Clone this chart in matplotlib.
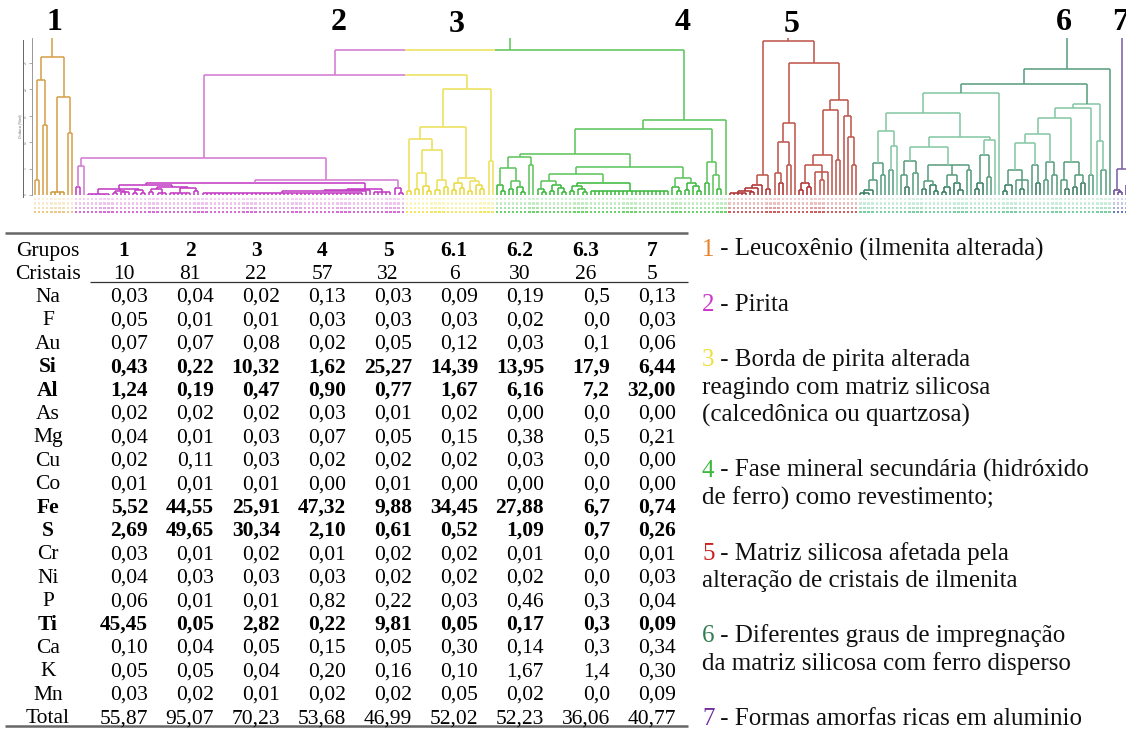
import numpy as np
import matplotlib.pyplot as plt
from matplotlib.collections import LineCollection

plt.rcParams['font.family'] = ['Liberation Serif', 'DejaVu Serif']

# ---------------- tabela ----------------
grupos = ['1', '2', '3', '4', '5', '6.1', '6.2', '6.3', '7']
cristais = [10, 81, 22, 57, 32, 6, 30, 26, 5]
elementos = ['Na', 'F', 'Au', 'Si', 'Al', 'As', 'Mg', 'Cu', 'Co',
             'Fe', 'S', 'Cr', 'Ni', 'P', 'Ti', 'Ca', 'K', 'Mn']
teores = [
    ['0,03', '0,04', '0,02', '0,13', '0,03', '0,09', '0,19', '0,5', '0,13'],
    ['0,05', '0,01', '0,01', '0,03', '0,03', '0,03', '0,02', '0,0', '0,03'],
    ['0,07', '0,07', '0,08', '0,02', '0,05', '0,12', '0,03', '0,1', '0,06'],
    ['0,43', '0,22', '10,32', '1,62', '25,27', '14,39', '13,95', '17,9', '6,44'],
    ['1,24', '0,19', '0,47', '0,90', '0,77', '1,67', '6,16', '7,2', '32,00'],
    ['0,02', '0,02', '0,02', '0,03', '0,01', '0,02', '0,00', '0,0', '0,00'],
    ['0,04', '0,01', '0,03', '0,07', '0,05', '0,15', '0,38', '0,5', '0,21'],
    ['0,02', '0,11', '0,03', '0,02', '0,02', '0,02', '0,03', '0,0', '0,00'],
    ['0,01', '0,01', '0,01', '0,00', '0,01', '0,00', '0,00', '0,0', '0,00'],
    ['5,52', '44,55', '25,91', '47,32', '9,88', '34,45', '27,88', '6,7', '0,74'],
    ['2,69', '49,65', '30,34', '2,10', '0,61', '0,52', '1,09', '0,7', '0,26'],
    ['0,03', '0,01', '0,02', '0,01', '0,02', '0,02', '0,01', '0,0', '0,01'],
    ['0,04', '0,03', '0,03', '0,03', '0,02', '0,02', '0,02', '0,0', '0,03'],
    ['0,06', '0,01', '0,01', '0,82', '0,22', '0,03', '0,46', '0,3', '0,04'],
    ['45,45', '0,05', '2,82', '0,22', '9,81', '0,05', '0,17', '0,3', '0,09'],
    ['0,10', '0,04', '0,05', '0,15', '0,05', '0,30', '0,14', '0,3', '0,34'],
    ['0,05', '0,05', '0,04', '0,20', '0,16', '0,10', '1,67', '1,4', '0,30'],
    ['0,03', '0,02', '0,01', '0,02', '0,02', '0,05', '0,02', '0,0', '0,09'],
]
total = ['55,87', '95,07', '70,23', '53,68', '46,99', '52,02', '52,23', '36,06', '40,77']
destaque = ['Si', 'Al', 'Fe', 'S', 'Ti']

descricoes = [
    ['Leucoxênio (ilmenita alterada)'],
    ['Pirita'],
    ['Borda de pirita alterada', 'reagindo com matriz silicosa', '(calcedônica ou quartzosa)'],
    ['Fase mineral secundária (hidróxido', 'de ferro) como revestimento;'],
    ['Matriz silicosa afetada pela', 'alteração de cristais de ilmenita'],
    ['Diferentes graus de impregnação', 'da matriz silicosa com ferro disperso'],
    ['Formas amorfas ricas em aluminio'],
]
cores_legenda = ['#e8822a', '#cc33cc', '#eee040', '#3cb83c', '#cc2222', '#2e7d50', '#7030a0']

# ---------------- dendrograma ----------------
# nó = (altura, filho, filho, ...); inteiro k = k folhas ligadas direto ao nó
grupo1 = (138, (115, (15, 1, 1), (70, 1, 1)), (98, (3, 4), (62, 1, 1)))
grupo2 = (37, (29, (8, 1, 1), 1),
          (15, (12, (10, (6, (1.5, 6), (4, (2, 1, 1), (3, 1, 1, 1)), (5, (2, 1, 1), (2, 1, 1))),
                         (8, (6, (3, 1, 1), (2, 1, 1, 1)), (7, (2, 6), (4, 1, 1)))),
                    (6, (5, (4, (2, 40), 1), 1), (3, 5))),
               (7, 1, (2, 1, 1))))
grupo3 = (106, (68, (56, (4, 1, 1),
                     (45, (22, (6, 1, 1), (9, 1, (4, 1, 1))), (15, (5, 1, 1), (8, 1, 1)))),
                (17, (12, (5, 1, 1), (7, 1, 1)), (14, (4, 1, 1), (10, 1, (6, 1, 1))))),
          (34, 1, 1))
g4d = (38, (27, (10, 1, (4, 1, 1)), (14, (6, 1, 1), (8, 1, (3, 1, 1)))), (30, 1, 1))
g4f = (21, (14, (6, 1, (3, 1, 1)), (10, (4, 1, 1), (7, 1, (3, 1, 1)))),
       (12, (9, (4, 1, 1), (6, 1, (3, 1, 1))), (4, 20)))
g4g = (17, (8, 1, (4, 1, 1)), (12, (5, 1, 1), (9, 1, (4, 1, 1))))
grupo4 = (75, (66, (41, g4d, (28, g4f, g4g)), (33, (12, 1, 1), (20, 1, (6, 1, 1)))), 1)
grupo5 = (154, (20, (10, (7, (4, (2, 5), (3, 1, 1)), 1), 1), (6, 1, 1)),
          (132, (72, (53, (22, 1, (12, 1, 1)), (30, 1, 1)), 1),
           (95, (85, (40, (30, (12, (5, 1, 1), (8, 1, 1)), (23, 1, (15, 1, 1), 1)), 1), (35, 1, 1)),
            (79, 1, (58, 1, (30, 1, 1))))))
g6e = (64, (32, (15, (5, (2, 3), 1), 1), (20, 1, 1)), (49, (25, 1, 1), 1))
g6h = (30, (14, (6, 1, 1), (10, 1, (4, 1, 1))), (20, (8, (3, 1, 1), 1), (12, 1, (5, 1, 1))), (25, 1, 1))
g6f = (58, (48, (34, (20, 1, (8, 1, 1)), (22, 1, 1)), g6h),
       (55, (40, (12, (6, 1, 1), 1), (18, 1, 1)), 1))
g6n = (61, (52, (25, (10, (4, 1, 1), 1), (15, 1, (6, 1, 1), 1)), (30, 1, (12, 1, 1))),
       (33, (15, 1, 1), (20, 1, 1)))
g6o = (33, (15, 1, (6, 1, 1)), (20, (8, 1, 1), (12, 1, 1)))
grupo6 = (126, (111, (102, (82, g6e, g6f), 1),
                (91, (87, (77, g6n, g6o), (20, 1, 1)), (54, 1, (25, 1, 1)))), 1)
grupo7 = (26, (5, 1, (3, 1, 1)), (10, 1, 1))
raiz = (200, grupo1, (145, (120, grupo2, grupo3), grupo4), grupo5, grupo6, grupo7)

n_grupo = [10, 81, 22, 57, 32, 6 + 30 + 26, 5]
cores_linha = ['#d6a24c', '#d27cd2', '#ece25a', '#5fc65f', '#c0574f', '#5a9f80', '#7d62a6']
cores_baixo = ['#cf9a40', '#c43cc4', '#e6da40', '#3fba3f', '#b03232', '#3b7f63', '#6a4c98']
cores_folha = ['#e8c070', '#d050d0', '#f0e440', '#50cc50', '#c84040', '#60c890', '#5060b0']

segs = []


def montar(no, prox):
    h = no[0]
    pts = []
    for filho in no[1:]:
        if isinstance(filho, int):
            for _ in range(filho):
                pts.append((prox[0], 0.0))
                prox[0] += 1
        else:
            pts.append(montar(filho, prox))
    for x, y in pts:
        segs.append((x, y, x, h))
    segs.append((pts[0][0], h, pts[-1][0], h))
    return ((pts[0][0] + pts[-1][0]) / 2, h)


prox = [0]
montar(raiz, prox)
n_folhas = prox[0]
inicio = np.concatenate([[0], np.cumsum(n_grupo)])
limites = inicio[1:-1] - 0.5


def grupo_de(x):
    return int(np.searchsorted(limites, x))


def cor_de(g, h):
    if g == 5 and 40 < h <= 105:
        return '#86c8a6'
    return cores_baixo[g] if h <= 12 else cores_linha[g]


linhas, cores = [], []
for x0, y0, x1, y1 in segs:
    if y0 == y1 and x1 > x0:
        cortes = [x0] + [b for b in limites if x0 < b < x1] + [x1]
        for a, b in zip(cortes[:-1], cortes[1:]):
            linhas.append([(a, y0), (b, y1)])
            cores.append(cor_de(grupo_de((a + b) / 2), y0))
    else:
        linhas.append([(x0, y0), (x1, y1)])
        cores.append(cor_de(grupo_de(x0), max(y0, y1)))

W, H = 1126, 733
fig = plt.figure(figsize=(W / 100, H / 100), dpi=100)

ax_t = fig.add_axes([0, 0, 1, 1])
ax_t.set_xlim(0, W)
ax_t.set_ylim(H, 0)
ax_t.axis('off')

ax_d = fig.add_axes([0, (H - 214) / H, 1, 176 / H])
esp = 4.086
ax_d.set_xlim(-35 / esp, (W - 35) / esp)
ax_d.set_ylim(-19, 157)
ax_d.set_facecolor('none')
ax_d.axis('off')
ax_d.add_collection(LineCollection(linhas, colors=cores, linewidths=1.15))

folhas = np.arange(n_folhas)
cor_folha = [cores_folha[grupo_de(i)] for i in folhas]
for yy, al in zip([-4, -8.5, -13, -17], [0.25, 0.32, 0.5, 0.85]):
    ax_d.scatter(folhas, np.full(n_folhas, yy), s=2.8, marker='s', c=cor_folha,
                 alpha=al, linewidths=0)

# escala minúscula à esquerda
ax_e = fig.add_axes([32 / W, (H - 214) / H, 0.0004, 176 / H])
ax_e.set_ylim(-19, 157)
ax_e.set_facecolor('none')
for s in ['top', 'right', 'bottom']:
    ax_e.spines[s].set_visible(False)
ax_e.spines['left'].set_bounds(0, 157)
ax_e.spines['left'].set_color('#888888')
ax_e.spines['left'].set_linewidth(0.6)
ax_e.set_xticks([])
ax_e.set_yticks(np.arange(0, 157, 26.5))
ax_e.set_yticklabels(['0', '5', '10', '15', '20', '25'], fontsize=2.5, rotation=90, color='#666666')
ax_e.tick_params(axis='y', length=2, width=0.5, color='#888888', pad=1)
ax_e2 = fig.add_axes([23 / W, (H - 214) / H, 0.0004, 176 / H])
ax_e2.set_ylim(-19, 157)
ax_e2.set_facecolor('none')
for s in ['top', 'right', 'bottom']:
    ax_e2.spines[s].set_visible(False)
ax_e2.spines['left'].set_bounds(-2, 155)
ax_e2.spines['left'].set_color('#666666')
ax_e2.spines['left'].set_linewidth(0.7)
ax_e2.set_xticks([])
ax_e2.set_yticks([])
ax_e2.set_ylabel('Distância (Ward)', fontsize=2.5, color='#666666', labelpad=1)

# números dos grupos acima do dendrograma
num_x = [54, 339, 457, 683, 792, 1064, 1120]
num_y = [22, 23, 25, 23, 25, 23, 23]
for k, (xx, yy) in enumerate(zip(num_x, num_y)):
    ax_t.text(xx, yy, str(k + 1), ha='center', va='center', fontsize=23,
              fontweight='bold', color='black')

# tabela
fs = 15.5
x_rot = 48
x_dir = [148 + 66 * i for i in range(len(grupos))]
y_lin = [249, 272] + [295 + 23.4 * k for k in range(len(elementos) + 1)]
b = 7

ax_t.text(x_rot, y_lin[0] + b, 'Grupos', ha='center', va='baseline', fontsize=fs)
ax_t.text(x_rot, y_lin[1] + b, 'Cristais', ha='center', va='baseline', fontsize=fs)
for g, c, xr in zip(grupos, cristais, x_dir):
    ax_t.text(xr - 24, y_lin[0] + b, g, ha='center', va='baseline', fontsize=fs, fontweight='bold')
    ax_t.text(xr - 24, y_lin[1] + b, str(c), ha='center', va='baseline', fontsize=fs)

for k, (el, vals) in enumerate(zip(elementos, teores)):
    peso = 'bold' if el in destaque else 'normal'
    yy = y_lin[2 + k] + b
    ax_t.text(x_rot, yy, el, ha='center', va='baseline', fontsize=fs, fontweight=peso)
    for v, xr in zip(vals, x_dir):
        ax_t.text(xr, yy, v, ha='right', va='baseline', fontsize=fs, fontweight=peso)

yy = y_lin[-1] + b
ax_t.text(x_rot, yy, 'Total', ha='center', va='baseline', fontsize=fs)
for v, xr in zip(total, x_dir):
    ax_t.text(xr, yy, v, ha='right', va='baseline', fontsize=fs)

ax_t.plot([5, 688], [233, 233], color='#666666', lw=1.8, solid_capstyle='butt')
ax_t.plot([90, 688], [282, 282], color='#333333', lw=0.9, solid_capstyle='butt')
ax_t.plot([5, 688], [726, 726], color='#666666', lw=1.8, solid_capstyle='butt')

# legenda
fl = 18
n = 0
for k, texto in enumerate(descricoes):
    for j, linha in enumerate(texto):
        yy = 248 + 27.6 * (n + j) + 8
        if j == 0:
            ax_t.text(702, yy, str(k + 1), color=cores_legenda[k], fontsize=fl, va='baseline')
            ax_t.text(714.5, yy, ' - ' + linha, color='#111111', fontsize=fl, va='baseline')
        else:
            ax_t.text(702, yy, linha, color='#111111', fontsize=fl, va='baseline')
    n += len(texto) + 1

fig.savefig('out.png', dpi=100)
